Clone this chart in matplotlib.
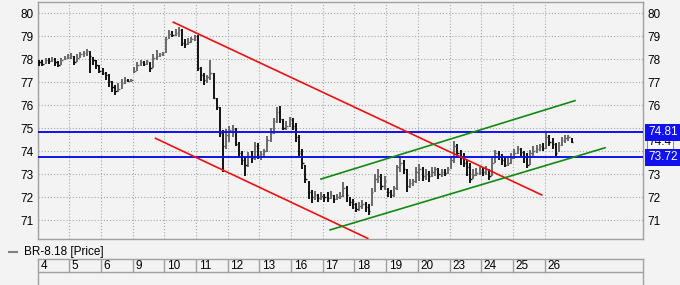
import matplotlib
matplotlib.use("Agg")
import matplotlib.pyplot as plt
import numpy as np

plt.rcParams['font.family'] = ['Liberation Sans', 'DejaVu Sans']

days = ["4", "5", "6", "9", "10", "11", "12", "13", "16", "17", "18", "19", "20", "23", "24", "25", "26"]
bars_per_day = 10

highs = [
    77.95, 77.95, 78.05, 78.05, 78.10, 78.05, 77.90, 78.05, 78.15, 78.20,
    78.25, 78.15, 78.20, 78.30, 78.35, 78.45, 78.35, 78.10, 77.95, 77.75,
    77.60, 77.45, 77.35, 77.05, 76.85, 76.95, 77.15, 77.20, 77.15, 77.15,
    77.65, 77.85, 77.95, 77.90, 77.95, 77.85, 78.20, 78.40, 78.25, 78.30,
    78.95, 79.25, 79.20, 79.30, 79.40, 79.30, 78.85, 78.90, 78.95, 79.05,
    79.05, 77.65, 77.40, 77.30, 77.95, 77.40, 76.30, 75.90, 74.90, 74.95,
    75.10, 75.15, 75.00, 74.40, 74.00, 73.80, 73.95, 74.00, 74.40, 74.35,
    74.00, 74.10, 74.65, 75.00, 75.45, 75.90, 75.95, 75.40, 75.30, 75.50,
    75.45, 75.20, 74.70, 74.10, 73.40, 72.70, 72.30, 72.25, 72.15, 72.20,
    72.15, 72.20, 72.25, 72.10, 72.15, 72.20, 72.65, 72.50, 72.00, 71.90,
    71.75, 71.80, 71.85, 71.80, 71.70, 72.40, 73.00, 73.20, 73.00, 72.90,
    72.40, 72.30, 72.50, 73.40, 73.70, 73.60, 73.20, 72.80, 72.80, 73.30,
    73.45, 73.30, 73.20, 73.15, 73.30, 73.30, 73.25, 73.20, 73.20, 73.30,
    73.80, 74.45, 74.30, 74.05, 73.90, 73.60, 73.50, 73.20, 73.25, 73.30,
    73.30, 73.35, 73.20, 73.70, 74.05, 74.00, 73.85, 73.70, 73.70, 73.90,
    74.10, 74.20, 74.15, 74.00, 73.90, 74.05, 74.20, 74.25, 74.30, 74.35,
    74.80, 74.70, 74.55, 74.35, 74.40, 74.60, 74.70, 74.70, 74.55,
]
lows = [
    77.70, 77.70, 77.80, 77.80, 77.85, 77.70, 77.65, 77.75, 77.95, 78.00,
    78.00, 77.75, 77.85, 78.05, 78.10, 78.15, 77.40, 77.75, 77.55, 77.40,
    77.30, 77.10, 76.80, 76.55, 76.45, 76.55, 76.70, 76.90, 77.00, 77.00,
    77.40, 77.50, 77.70, 77.70, 77.75, 77.45, 77.60, 77.95, 78.10, 78.15,
    78.25, 78.85, 78.95, 79.00, 78.95, 78.55, 78.50, 78.60, 78.70, 78.80,
    77.50, 77.05, 76.85, 76.95, 77.10, 76.25, 75.80, 74.60, 73.10, 74.10,
    74.40, 74.60, 74.20, 73.70, 73.40, 72.90, 73.30, 73.50, 73.60, 73.65,
    73.60, 73.75, 73.95, 74.40, 74.75, 75.20, 75.20, 74.90, 74.90, 75.05,
    74.90, 74.40, 73.80, 73.20, 72.60, 71.90, 71.75, 71.85, 71.80, 71.85,
    71.80, 71.80, 71.90, 71.75, 71.85, 71.90, 72.00, 71.80, 71.60, 71.50,
    71.35, 71.40, 71.50, 71.35, 71.20, 71.60, 72.20, 72.60, 72.30, 72.30,
    72.00, 71.95, 72.00, 72.30, 73.10, 73.00, 72.20, 72.40, 72.50, 72.60,
    72.70, 72.70, 72.75, 72.65, 72.85, 72.90, 72.80, 72.85, 72.90, 73.00,
    73.20, 73.50, 73.70, 73.40, 73.30, 72.90, 72.60, 72.80, 72.90, 72.95,
    72.90, 72.95, 72.75, 72.90, 73.50, 73.60, 73.40, 73.30, 73.35, 73.45,
    73.65, 73.85, 73.80, 73.50, 73.25, 73.40, 73.80, 73.90, 74.00, 74.00,
    74.10, 74.20, 74.10, 73.80, 73.95, 74.20, 74.35, 74.45, 74.35,
]
closes = [
    77.85, 77.80, 77.95, 77.90, 78.00, 77.85, 77.75, 77.95, 78.05, 78.10,
    78.15, 77.85, 78.05, 78.20, 78.25, 78.35, 78.15, 77.95, 77.75, 77.50,
    77.40, 77.30, 77.05, 76.80, 76.60, 76.70, 76.95, 77.10, 77.05, 77.10,
    77.50, 77.75, 77.85, 77.80, 77.90, 77.60, 78.05, 78.15, 78.20, 78.25,
    78.85, 79.10, 79.05, 79.15, 79.25, 78.70, 78.65, 78.75, 78.85, 79.00,
    77.60, 77.30, 77.10, 77.20, 77.40, 76.30, 75.90, 74.80, 74.20, 74.70,
    74.90, 74.95, 74.30, 73.90, 73.60, 73.40, 73.80, 73.70, 74.20, 73.80,
    73.85, 74.00, 74.50, 74.80, 75.30, 75.70, 75.40, 75.00, 75.10, 75.40,
    75.10, 74.60, 73.90, 73.50, 72.80, 72.20, 72.00, 72.10, 71.95, 72.05,
    72.00, 71.95, 72.10, 71.90, 72.00, 72.05, 72.40, 72.10, 71.80, 71.70,
    71.50, 71.60, 71.70, 71.55, 71.40, 72.20, 72.80, 72.90, 72.50, 72.70,
    72.20, 72.10, 72.40, 73.30, 73.50, 73.20, 72.50, 72.60, 72.70, 73.10,
    73.20, 72.90, 73.00, 72.90, 73.10, 73.20, 73.00, 73.10, 73.05, 73.20,
    73.60, 74.20, 73.90, 73.70, 73.50, 73.30, 72.80, 72.95, 73.05, 73.10,
    73.10, 73.20, 72.90, 73.50, 73.90, 73.80, 73.60, 73.40, 73.50, 73.70,
    73.90, 74.10, 73.95, 73.80, 73.40, 73.90, 74.00, 74.10, 74.20, 74.15,
    74.60, 74.40, 74.30, 73.90, 74.25, 74.50, 74.55, 74.60, 74.40,
]

# trend lines (x in day-index units, y in price)
red_upper_x = [4.28, 15.91]
red_upper_y = [79.60, 72.09]
red_lower_x = [3.72, 10.42]
red_lower_y = [74.55, 70.20]
green_upper_x = [8.94, 16.96]
green_upper_y = [72.78, 76.19]
green_lower_x = [9.23, 17.91]
green_lower_y = [70.57, 74.14]

level_high = 74.81
level_low = 73.72
last_price = 74.4
yticks = [71, 72, 73, 74, 75, 76, 77, 78, 79, 80]
legend_label = "BR-8.18 [Price]"

W, H = 680, 285
BG = '#f3f3f3'
FS = 8.5
fig = plt.figure(figsize=(W / 100, H / 100), dpi=100, facecolor=BG)

L, R, T, B = 37.7, 643, 2, 239
ax = fig.add_axes([L / W, 1 - B / H, (R - L) / W, (B - T) / H], facecolor=BG)
px_per_day = 31.68
ax.set_xlim(0, (R - L) / px_per_day)
ax.set_ylim(80 - (B - 13) / 23.0, 80 + (13 - T) / 23.0)

ax.set_yticks(yticks)
ax.set_yticklabels([str(v) for v in yticks])
ax.set_xticks(np.arange(0, len(days)))
ax.set_xticklabels([])
ax.tick_params(axis='y', which='both', length=0, labelleft=True, labelright=True,
               labelsize=FS, pad=3)
ax.tick_params(axis='x', length=0)
ax.grid(True, color='#a8a8a8', linestyle=(0, (1.0, 1.8)), linewidth=0.8)
ax.set_axisbelow(True)
for s in ax.spines.values():
    s.set_color('#a0a0a0')
    s.set_linewidth(1.0)

n = len(closes)
xs = np.array([i // bars_per_day + ((i % bars_per_day) + 0.5) / bars_per_day for i in range(n)])
cols = []
for i in range(n):
    prev = closes[i - 1] if i > 0 else closes[0]
    cols.append('#111111' if closes[i] <= prev else '#6a6a6a')
ax.vlines(xs, lows, highs, colors=cols, linewidth=1.4, zorder=3)
ax.hlines(closes, xs, xs + 0.045, colors=cols, linewidth=1.0, zorder=3)

ax.axhline(level_high, color='#1010f0', linewidth=1.4, zorder=4)
ax.axhline(level_low, color='#1010f0', linewidth=1.4, zorder=4)

ax.plot(red_upper_x, red_upper_y, color='#f01010', linewidth=1.2, zorder=4)
ax.plot(red_lower_x, red_lower_y, color='#f01010', linewidth=1.2, zorder=4)
ax.plot(green_upper_x, green_upper_y, color='#108a10', linewidth=1.2, zorder=4)
ax.plot(green_lower_x, green_lower_y, color='#108a10', linewidth=1.2, zorder=4)

trans = ax.get_yaxis_transform()
xr = 1 + 5 / (R - L)
ax.text(xr, level_high, f"{level_high:.2f}", transform=trans, color='white', fontsize=FS,
        va='center', ha='left', zorder=10, clip_on=False,
        bbox=dict(boxstyle='square,pad=0.22', fc='#1010f0', ec='none'))
ax.text(xr, level_low, f"{level_low:.2f}", transform=trans, color='white', fontsize=FS,
        va='center', ha='left', zorder=10, clip_on=False,
        bbox=dict(boxstyle='square,pad=0.22', fc='#1010f0', ec='none'))
ax.text(xr, last_price, f"{last_price}", transform=trans, color='black', fontsize=FS,
        va='center', ha='left', zorder=9, clip_on=False,
        bbox=dict(boxstyle='square,pad=0.12', fc='white', ec='#909090', lw=0.8))

# legend row
fig.add_artist(plt.Line2D([9 / W, 17 / W], [1 - 252 / H, 1 - 252 / H], color='#808080', linewidth=1.5))
fig.text(24 / W, 1 - 252 / H, legend_label, fontsize=FS, va='center', ha='left', color='black')

# date strip
st_top, st_mid = 259, 272.3
sx = fig.add_axes([L / W, 0, (R - L) / W, 1 - st_top / H], facecolor=BG)
sx.set_xlim(ax.get_xlim())
sx.set_ylim(H, st_top)
sx.set_xticks([]); sx.set_yticks([])
for k, s in sx.spines.items():
    s.set_color('#a0a0a0')
    s.set_linewidth(1.0)
sx.spines['bottom'].set_visible(False)
sx.axhline(st_mid, color='#a0a0a0', linewidth=1.0)
for i, d in enumerate(days):
    if i > 0:
        sx.plot([i, i], [st_top, st_mid], color='#a0a0a0', linewidth=1.0)
    sx.text(i + 2.5 / px_per_day, (st_top + st_mid) / 2 + 0.5, d, fontsize=FS, va='center', ha='left')

fig.savefig('out.png', dpi=100, facecolor=BG)
